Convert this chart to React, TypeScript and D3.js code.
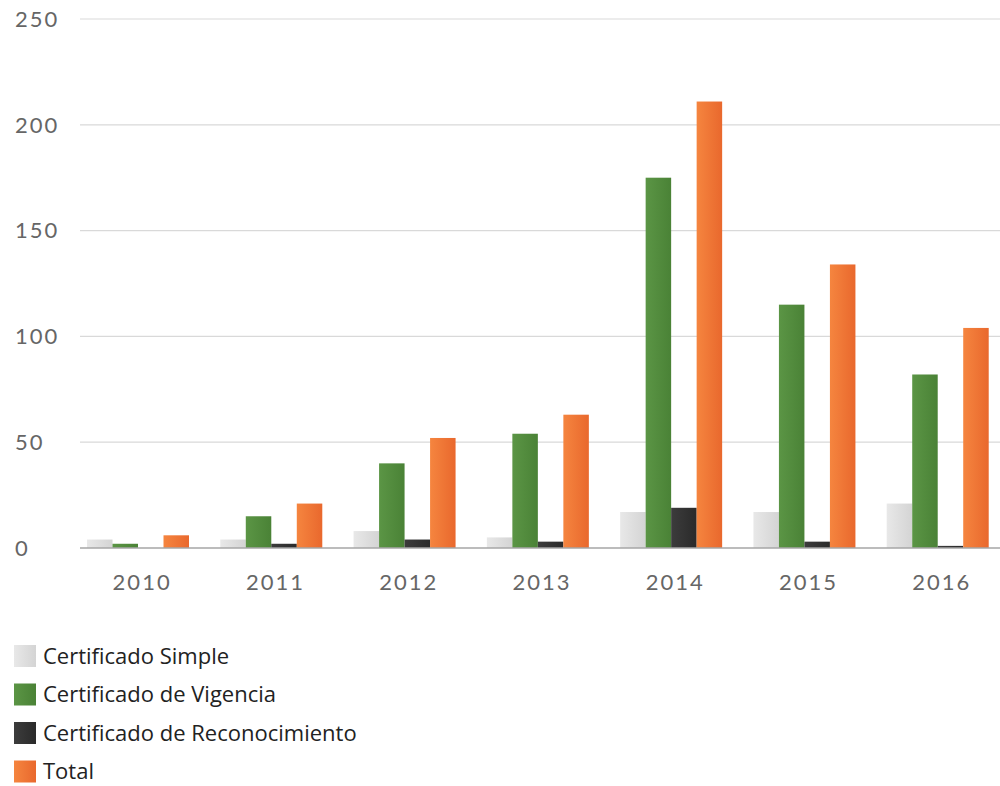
import React, { useEffect, useRef } from 'react';
import * as d3 from 'd3';

const years = ['2010', '2011', '2012', '2013', '2014', '2015', '2016'];
const seriesNames = ['Certificado Simple', 'Certificado de Vigencia', 'Certificado de Reconocimiento', 'Total'];
const simpleValues = [4, 4, 8, 5, 17, 17, 21];
const vigenciaValues = [2, 15, 40, 54, 175, 115, 82];
const reconocimientoValues = [0, 2, 4, 3, 19, 3, 1];
const totalValues = [6, 21, 52, 63, 211, 134, 104];
const yTicks = [0, 50, 100, 150, 200, 250];

// left / right gradient stops for each series
const colors = [
  ['#e8e8e8', '#d4d4d4'],
  ['#5b9545', '#4a8236'],
  ['#3c3c3c', '#2a2a2a'],
  ['#f5853f', '#e9682d'],
];

const App = () => {
  const svgRef = useRef<SVGSVGElement>(null);

  useEffect(() => {
    const width = 1000;
    const height = 786;
    const allValues = [simpleValues, vigenciaValues, reconocimientoValues, totalValues];

    const svg = d3.select(svgRef.current);
    svg.selectAll('*').remove();
    svg.attr('width', width).attr('height', height);

    const defs = svg.append('defs');
    colors.forEach((c, i) => {
      const g = defs.append('linearGradient')
        .attr('id', `grad${i}`)
        .attr('x1', '0%').attr('x2', '100%')
        .attr('y1', '0%').attr('y2', '0%');
      g.append('stop').attr('offset', '0%').attr('stop-color', c[0]);
      g.append('stop').attr('offset', '100%').attr('stop-color', c[1]);
    });

    const x0 = d3.scaleBand().domain(years).range([75.5, 1008.5]);
    const x1 = d3.scaleBand().domain(seriesNames).range([11.5, 113.5]);
    const y = d3.scaleLinear().domain([0, 250]).range([548, 19]);

    // gridlines
    svg.append('g')
      .selectAll('line')
      .data(yTicks.filter(t => t > 0))
      .enter()
      .append('line')
      .attr('x1', 80)
      .attr('x2', width)
      .attr('y1', d => y(d))
      .attr('y2', d => y(d))
      .attr('stroke', '#d9d9d9')
      .attr('stroke-width', 1.2);

    // y tick labels
    svg.append('g')
      .selectAll('text')
      .data(yTicks)
      .enter()
      .append('text')
      .attr('x', 15)
      .attr('y', d => y(d))
      .attr('dy', '0.35em')
      .style('font-family', 'Lato, sans-serif')
      .style('font-size', '22px')
      .style('letter-spacing', '2px')
      .style('fill', '#666')
      .text(d => d);

    // bars
    const groups = svg.append('g')
      .selectAll('g')
      .data(years)
      .enter()
      .append('g')
      .attr('transform', d => `translate(${x0(d)},0)`);

    groups.selectAll('rect')
      .data((d, yi) => seriesNames.map((s, si) => ({ s, si, v: allValues[si][yi] })))
      .enter()
      .append('rect')
      .attr('x', d => x1(d.s)!)
      .attr('width', x1.bandwidth())
      .attr('y', d => y(d.v))
      .attr('height', d => y(0) - y(d.v))
      .attr('fill', d => `url(#grad${d.si})`);

    // baseline
    svg.append('line')
      .attr('x1', 80)
      .attr('x2', width)
      .attr('y1', y(0))
      .attr('y2', y(0))
      .attr('stroke', '#a6a6a6')
      .attr('stroke-width', 1.5);

    // x labels
    svg.append('g')
      .selectAll('text')
      .data(years)
      .enter()
      .append('text')
      .attr('x', d => x0(d)! + x0.bandwidth() / 2)
      .attr('y', 582)
      .attr('dy', '0.35em')
      .attr('text-anchor', 'middle')
      .style('font-family', 'Lato, sans-serif')
      .style('font-size', '22px')
      .style('letter-spacing', '2px')
      .style('fill', '#666')
      .text(d => d);

    // legend
    const legend = svg.append('g')
      .selectAll('g')
      .data(seriesNames)
      .enter()
      .append('g')
      .attr('transform', (d, i) => `translate(14,${656 + i * 38.5})`);

    legend.append('rect')
      .attr('x', 0)
      .attr('y', -11)
      .attr('width', 22)
      .attr('height', 22)
      .attr('fill', (d, i) => `url(#grad${i})`);

    legend.append('text')
      .attr('x', 29)
      .attr('y', 0)
      .attr('dy', '0.35em')
      .style('font-family', '"Open Sans", sans-serif')
      .style('font-size', '22px')
      .style('fill', '#222')
      .text(d => d);
  }, []);

  return (
    <svg ref={svgRef} style={{ position: 'absolute', left: 0, top: 0 }}></svg>
  );
};

export default App;
